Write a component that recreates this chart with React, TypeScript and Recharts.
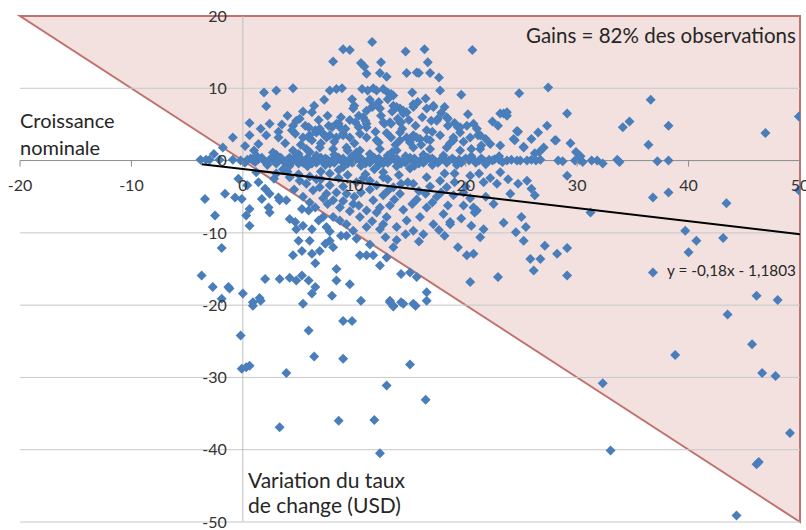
import { ScatterChart, Scatter, XAxis, YAxis, ReferenceArea, ReferenceLine, ReferenceDot } from 'recharts'

const xTicks = [-20, -10, 0, 10, 20, 30, 40, 50]
const yTicks = [20, 10, 0, -10, -20, -30, -40, -50]
const gridValues = [10, -10, -20, -30, -40, -50]

// observations sitting on (or very close to) zero growth
const zeroBand: [number, number][] = [
  [-3.8, 0.1], [-3.3, 0.1], [-3.0, 0.1], [-2.1, 0.1], [-0.9, 0.1], [-0.2, 0], [0.4, 0.1], [0.9, 0], [1.4, 0.2], [1.9, 0],
  [2.4, 0.1], [2.8, -0.1], [3.2, 0.2], [3.6, 0], [4.0, 0.1], [4.4, -0.2], [4.8, 0], [5.2, 0.3], [5.6, 0], [6.0, -0.1],
  [6.4, 0.2], [6.8, 0], [7.2, -0.2], [7.6, 0.1], [8.0, 0], [8.4, 0.3], [8.8, 0], [9.2, -0.2], [9.6, 0.1], [10.0, 0],
  [10.4, 0.2], [10.8, -0.1], [11.2, 0], [11.6, 0.3], [12.0, 0], [12.4, -0.2], [12.8, 0.1], [13.2, 0], [13.6, 0.2], [14.0, -0.1],
  [14.4, 0], [14.8, 0.2], [15.2, 0], [15.6, -0.1], [16.0, 0.1], [16.4, 0], [16.8, 0.2], [17.2, 0], [17.7, 0], [18.1, 0.1],
  [18.5, 0], [19.0, 0], [19.4, 0.1], [19.8, 0], [20.3, 0], [20.7, 0.1], [21.2, 0], [21.6, 0], [22.1, 0.1], [22.4, 0],
  [23.7, 0], [24.1, 0.1], [24.6, 0], [24.9, 0], [25.5, 0], [25.9, 0.1], [26.3, 0], [26.7, 0.1], [28.3, 0], [28.7, -0.1],
  [29.8, 0], [30.2, 0.1], [30.5, -0.2], [31.3, 0], [31.8, 0], [32.3, -0.4], [33.6, 0.1], [33.8, -0.2], [37.2, -0.1], [38.2, 0],
  [1.2, 0.7], [2.2, -0.6], [3.0, 0.8], [4.2, -0.7], [5.0, 0.9], [5.8, -0.8], [6.6, 0.7], [7.4, -0.6], [8.2, 0.8], [9.0, -0.9],
  [9.8, 0.6], [10.6, -0.7], [11.4, 0.9], [12.2, -0.6], [13.0, 0.7], [13.8, -0.8], [14.6, 0.6], [15.4, -0.7], [16.2, 0.8], [17.0, -0.6],
  [18.0, 0.7], [19.2, -0.6], [20.5, 0.6], [21.8, -0.5], [23.0, 0.6], [3.6, -1.2], [6.0, 1.2], [8.6, -1.3], [10.2, 1.1], [11.8, -1.2],
  [13.4, 1.2], [15.0, -1.1], [7.0, -1.5], [9.4, 1.4], [12.6, -1.6],
  [0.2, -0.3], [0.7, 0.3], [1.1, -0.2], [1.7, 0.4], [2.1, -0.3], [2.6, 0.4], [3.0, -0.4], [3.4, 0.4], [3.8, -0.3], [4.2, 0.4],
  [4.6, 0.3], [5.0, -0.4], [5.4, -0.3], [5.8, 0.4], [6.2, -0.4], [6.6, -0.3], [7.0, 0.4], [7.4, 0.3], [7.8, -0.4], [8.2, -0.3],
  [8.6, 0.4], [9.0, 0.3], [9.4, -0.4], [9.8, -0.3], [10.2, 0.4], [10.6, 0.3], [11.0, -0.4], [11.4, -0.3], [11.8, 0.4], [12.2, 0.3],
  [12.6, -0.4], [13.0, -0.3], [13.4, 0.4], [13.8, 0.3], [14.2, -0.4], [14.6, -0.3], [15.0, 0.4], [15.4, 0.3], [15.8, -0.4], [16.2, -0.3],
  [16.6, 0.4], [17.0, 0.3], [17.5, -0.3], [17.9, 0.3], [18.3, -0.3], [18.8, 0.3], [19.6, -0.3], [20.0, 0.3], [20.9, -0.3], [21.4, 0.3],
  [22.6, 0.2], [23.3, -0.2], [23.0, 0.1],
]

// nominal growth above zero
const upperPoints: [number, number][] = [
  [11.6, 16.4], [9.0, 15.4], [9.6, 15.3], [14.6, 15.1], [16.3, 15.4], [20.6, 15.3], [8.1, 13.7], [10.6, 13.5], [10.9, 13.0], [12.4, 13.6],
  [16.6, 13.6], [11.1, 12.0], [12.3, 12.1], [12.9, 11.6], [14.7, 12.1], [15.8, 12.1], [16.8, 12.1], [17.6, 11.5],
  [1.9, 9.4], [3.0, 9.7], [4.5, 10.0], [7.8, 9.7], [8.4, 9.9], [8.9, 10.0], [10.7, 9.9], [11.2, 9.7], [11.7, 10.0], [12.0, 9.7],
  [12.6, 9.9], [13.0, 9.4], [13.5, 9.0], [15.2, 9.4], [17.7, 9.7], [19.6, 9.1], [24.8, 9.3], [27.4, 10.1],
  [2.1, 7.5], [6.2, 6.7], [9.8, 8.5], [9.9, 7.2], [10.4, 6.2], [11.1, 6.9], [11.6, 7.4], [12.3, 7.2], [13.5, 7.6], [14.1, 7.2],
  [14.7, 6.7], [15.3, 7.4], [15.7, 8.1], [16.5, 7.2], [17.1, 7.4], [18.1, 7.4], [23.4, 6.5], [22.9, 4.8],
  [0.6, 5.2], [2.4, 5.1], [3.5, 5.0], [4.5, 4.8], [5.1, 5.8], [5.9, 4.6], [6.9, 4.4], [7.7, 4.8], [8.4, 5.1], [8.7, 4.6],
  [10.1, 5.3], [10.4, 4.6], [11.1, 5.1], [12.6, 5.3], [13.2, 5.3], [13.9, 5.8], [14.4, 6.5], [16.1, 6.0], [16.9, 5.5], [17.5, 5.8],
  [18.3, 6.0], [19.5, 4.6], [20.1, 4.8], [20.7, 5.1],
  [0.6, 3.5], [2.1, 3.5], [3.2, 3.2], [1.4, 2.3], [4.7, 3.7], [5.4, 3.2], [6.0, 3.5], [6.6, 3.9], [7.2, 3.7], [7.8, 3.5],
  [8.4, 3.2], [9.0, 3.5], [9.6, 3.2], [11.1, 3.2], [12.2, 2.5], [13.3, 3.2], [14.1, 2.8], [15.0, 2.5], [15.6, 3.2], [16.5, 3.0],
  [17.7, 3.5], [18.9, 3.2], [20.4, 3.2], [21.3, 3.5], [22.2, 2.3], [23.1, 2.1],
  [2.7, 1.1], [4.5, 1.4], [5.7, 1.6], [6.9, 1.8], [8.1, 1.6], [9.3, 1.8], [10.5, 1.4], [12.3, 1.6], [13.8, 1.4], [15.3, 1.8],
  [16.8, 1.6], [18.3, 1.8], [19.5, 1.4], [21.3, 1.6],
  [23.7, 6.2], [29.1, 6.5], [36.6, 8.4], [34.1, 4.6], [34.7, 5.4], [38.2, 4.8], [46.9, 3.8], [49.9, 6.1], [36.4, 2.2],
  [24.3, 3.0], [24.7, 4.0], [25.2, 1.8], [25.9, 3.0], [26.5, 3.9], [27.3, 4.8], [27.0, 1.8], [28.0, 2.8], [29.4, 2.4], [26.2, 1.0],
  [26.6, 1.2], [29.9, 1.2], [30.3, 0.6], [-0.9, 3.2],
  [11.0, 5.5], [11.7, 7.6], [12.2, 8.1], [13.0, 8.5], [13.3, 9.2], [13.8, 7.4], [14.4, 6.9], [15.6, 12.2],
  [4.8, 5.5], [5.9, 3.2], [6.5, 4.2], [7.1, 3.9], [7.5, 3.2], [8.0, 4.6], [8.6, 5.1], [9.0, 3.7], [10.5, 3.7], [11.1, 4.6],
  [12.0, 2.8], [12.7, 5.1], [13.3, 5.1], [14.1, 5.3], [14.7, 3.2], [15.3, 3.5],
  [15.3, 7.8], [17.1, 7.6], [14.2, 5.3], [17.4, 5.5], [18.4, 5.8], [19.3, 4.6], [19.5, 3.9], [21.1, 3.5], [16.5, 4.2], [18.4, 4.8],
  [23.1, 6.5], [23.7, 6.7], [24.6, 4.1], [24.4, 2.8], [25.2, 1.9], [28.1, 2.8], [14.1, 3.9], [15.0, 2.8], [15.9, 3.0], [16.8, 2.8],
  [18.9, 2.8], [20.5, 1.6], [21.4, 2.1],
  [3.8, 2.4], [4.4, 4.2], [5.2, 2.2], [5.6, 4.8], [6.2, 2.8], [6.8, 5.6], [7.0, 2.4], [7.6, 6.2], [8.2, 2.6], [8.8, 6.0],
  [9.2, 4.4], [9.6, 5.6], [10.0, 2.4], [10.8, 6.0], [10.0, 7.6], [11.4, 8.4], [11.9, 4.0], [12.4, 6.2], [12.9, 3.8], [13.4, 6.8],
  [13.7, 2.2], [14.3, 4.4], [14.9, 5.6], [15.5, 4.8], [16.0, 2.2], [16.4, 8.6], [17.0, 4.0], [17.8, 6.6], [18.6, 2.4], [19.0, 5.2],
  [19.8, 2.6], [20.2, 6.4], [21.0, 4.4], [21.8, 3.0], [22.4, 5.4], [7.3, 8.4], [6.4, 7.6], [5.4, 6.8], [4.0, 6.2], [3.2, 4.0],
  [1.6, 4.4], [1.0, 1.4], [0.2, 2.0], [-1.8, 1.8], [-2.6, 0.9],
]

// nominal growth below zero
const lowerPoints: [number, number][] = [
  [18.1, -1.8], [19.0, -1.8], [20.4, -2.1], [21.6, -3.0], [23.1, -1.6], [24.0, -4.6], [24.7, -3.2], [25.5, -2.8], [25.9, -3.9], [26.2, -4.8],
  [29.1, -2.1], [31.2, -7.2], [36.8, -5.1], [38.2, -4.4], [43.4, -5.9], [49.9, -4.1],
  [18.9, -4.8], [19.8, -6.2], [20.7, -6.5], [20.8, -7.2], [21.0, -6.9], [22.5, -6.0], [20.5, -9.0], [21.6, -9.5], [21.3, -10.6],
  [18.6, -8.8], [18.1, -10.4], [19.3, -12.0], [20.1, -13.1], [20.7, -12.9], [20.4, -16.8], [22.9, -16.1],
  [25.0, -7.8], [25.4, -9.2], [24.5, -9.9], [25.2, -11.1], [25.8, -13.6], [26.7, -13.6], [26.1, -15.2], [27.1, -11.8], [28.2, -12.9], [29.1, -12.1],
  [29.1, -15.9], [39.7, -9.7], [40.7, -11.1], [40.0, -12.7], [43.1, -10.7], [36.8, -15.5], [46.1, -18.7], [48.0, -19.3], [43.5, -21.3],
  [45.7, -25.4], [46.6, -29.4], [47.8, -29.8], [38.8, -26.9], [32.3, -30.8], [49.1, -37.7], [46.1, -42.0], [46.3, -41.7], [33.0, -40.1], [44.3, -49.1],
  [-3.4, -5.3], [-2.5, -7.6], [-1.9, -12.1], [-3.7, -15.9], [-2.7, -17.5], [-1.3, -17.5], [-1.2, -17.7], [-1.9, -19.1], [0.0, -18.4], [-0.1, -5.3],
  [-0.7, -5.1], [-1.6, -4.6], [-0.4, -2.5], [0.6, -6.7], [0.3, -7.6], [0.6, -9.0], [0.9, -19.6], [1.5, -19.0], [1.7, -5.3], [1.4, -3.0],
  [2.0, -3.9], [2.4, -4.6], [2.0, -16.4],
  [2.3, -6.5], [2.4, -7.2], [3.2, -5.1], [3.3, -5.5], [3.9, -5.5], [4.2, -8.1], [4.7, -8.5], [4.8, -9.5], [5.4, -9.0], [5.3, -6.7],
  [5.9, -6.9], [6.5, -6.5], [6.8, -8.3], [7.2, -7.8], [6.2, -9.5], [7.5, -9.2],
  [4.5, -13.1], [5.0, -11.1], [5.3, -12.5], [6.0, -11.1], [6.2, -12.9], [6.5, -14.2], [6.9, -12.5], [7.4, -11.5], [7.8, -11.1], [8.1, -12.0],
  [8.4, -15.0], [5.3, -15.9], [5.9, -16.6], [6.5, -17.5], [8.4, -16.6], [9.6, -17.1], [8.0, -18.7], [5.4, -19.8], [6.2, -18.4], [3.3, -16.4],
  [4.2, -16.2], [4.8, -16.6],
  [9.3, -10.4], [9.9, -9.7], [10.5, -13.1], [11.1, -13.1], [11.7, -13.1], [12.3, -14.5], [12.9, -13.4], [13.5, -12.0], [14.2, -15.7], [15.0, -15.5],
  [15.6, -16.1], [16.5, -18.2], [16.5, -19.4], [15.3, -19.8], [14.2, -19.6], [13.2, -19.4], [13.5, -20.1], [10.6, -19.4],
  [4.2, -2.3], [5.1, -2.8], [5.7, -3.2], [6.3, -4.1], [6.9, -3.7], [7.5, -4.6], [8.1, -5.5], [8.7, -6.5], [9.3, -4.6], [9.9, -6.0],
  [10.5, -7.8], [11.1, -6.9], [11.7, -5.5], [12.3, -6.5], [12.9, -7.8], [13.8, -9.2], [14.7, -8.3], [15.3, -9.7], [15.9, -7.8], [16.5, -6.5],
  [17.1, -8.8], [18.0, -7.4], [18.6, -8.5], [8.1, -7.8], [8.7, -8.3], [9.3, -8.8], [11.1, -9.2], [12.3, -9.5], [13.5, -3.7], [14.1, -4.6],
  [15.3, -3.2], [16.5, -2.3], [17.7, -2.8], [18.3, -3.7], [11.4, -2.8], [12.6, -2.3],
  [-0.2, -24.2], [-0.1, -28.8], [0.3, -28.6], [0.6, -28.4], [0.9, -20.1], [1.6, -19.4], [3.3, -36.9], [3.9, -29.4], [5.9, -23.5], [6.4, -27.1],
  [8.6, -36.0], [9.0, -22.2], [9.8, -22.2], [9.0, -27.4], [11.8, -35.9], [12.3, -40.5], [12.9, -31.1], [13.2, -19.6], [13.5, -20.2], [14.4, -19.8],
  [15.0, -28.2], [15.5, -20.1], [16.4, -33.1],
  [3.0, -1.8], [4.0, -1.5], [5.0, -1.9], [6.0, -2.2], [7.0, -2.6], [7.8, -1.8], [8.6, -2.4], [9.4, -2.0], [10.2, -3.0], [11.0, -1.9],
  [12.0, -3.4], [13.0, -2.6], [14.0, -2.0], [14.8, -3.0], [15.8, -4.2], [16.8, -3.6], [17.4, -5.0], [9.0, -3.6], [10.6, -4.4], [12.6, -4.8],
  [7.6, -6.0], [10.0, -5.0], [11.6, -8.4], [13.2, -6.2], [14.4, -6.8], [15.6, -5.4], [16.2, -10.2], [17.6, -9.6], [19.6, -8.0], [20.0, -3.6],
  [21.8, -5.0], [22.8, -3.2], [23.4, -8.6], [2.8, -2.5], [1.2, -1.6], [0.4, -3.4],
  [4.6, -4.0], [5.4, -5.0], [6.0, -5.8], [6.6, -2.6], [7.2, -5.2], [7.8, -3.4], [8.4, -4.4], [9.0, -5.6], [9.6, -7.0], [10.4, -6.2],
  [10.8, -2.4], [11.4, -4.0], [12.0, -7.2], [12.6, -8.8], [13.0, -4.2], [13.6, -5.4], [14.2, -3.2], [14.6, -10.2], [15.2, -6.0], [15.8, -11.2],
  [16.4, -4.6], [17.0, -5.8], [17.8, -4.4], [18.4, -6.2], [19.0, -3.0], [19.8, -4.4], [20.4, -5.2], [21.2, -1.8], [22.2, -2.4], [23.8, -2.6],
  [10.2, -10.8], [11.4, -11.6], [12.8, -10.6], [13.8, -11.0], [8.8, -10.4], [7.8, -9.8],
]

// linear trend y = -0,18x - 1,1803 over the observed range
const trendLine: [number, number][] = [[-3.7, -0.51], [50, -10.18]]

const observations = [...zeroBand, ...upperPoints, ...lowerPoints].map(([x, y]) => ({ x, y }))
const trendData = trendLine.map(([x, y]) => ({ x, y }))

const FONT = 'Lato, "Open Sans", sans-serif'

function GainsTriangle(props: any) {
  const { x, y, width, height } = props
  return (
    <polygon
      points={`${x},${y} ${x + width},${y} ${x + width},${y + height}`}
      fill="#f2e1df"
      stroke="#bf726e"
      strokeWidth={2}
    />
  )
}

function Diamond(props: any) {
  const { cx, cy } = props
  const r = 5
  return <path d={`M${cx},${cy - r}L${cx + r},${cy}L${cx},${cy + r}L${cx - r},${cy}Z`} fill="#4a7ebb" />
}

function XTickMark(props: any) {
  const { cx, cy } = props
  return <line x1={cx} x2={cx} y1={cy} y2={cy + 6} stroke="#8c8c8c" />
}

export default function App() {
  return (
    <div style={{ position: 'relative', width: 806, height: 530, fontFamily: FONT }}>
      <style>{'body{margin:0}'}</style>
      <ScatterChart width={806} height={530} margin={{ top: 16, right: 6, bottom: 8, left: 20 }}>
        <XAxis type="number" dataKey="x" domain={[-20, 50]} allowDataOverflow hide />
        <YAxis type="number" dataKey="y" domain={[-50, 20]} allowDataOverflow hide />
        <ReferenceArea x1={-20} x2={50} y1={-50} y2={20} shape={GainsTriangle} />
        {gridValues.map((v) => (
          <ReferenceLine key={'g' + v} y={v} stroke="#c8c8c8" strokeWidth={1} />
        ))}
        <ReferenceLine x={0} stroke="#bfbfbf" strokeWidth={1} />
        <ReferenceLine y={0} stroke="#8c8c8c" strokeWidth={1} />
        <Scatter data={observations} shape={Diamond} isAnimationActive={false} />
        <Scatter data={trendData} line={{ stroke: '#000', strokeWidth: 2 }} shape={() => null} isAnimationActive={false} />
        {xTicks.map((v) => (
          <ReferenceDot
            key={'x' + v}
            x={v}
            y={0}
            r={0}
            shape={XTickMark}
            label={{ value: String(v), position: 'bottom', offset: 19, fill: '#333', fontSize: 16, fontFamily: FONT }}
          />
        ))}
        {yTicks.map((v) => (
          <ReferenceDot
            key={'y' + v}
            x={0}
            y={v}
            r={0}
            shape={() => <g />}
            label={{ value: String(v), position: 'left', offset: 16, fill: '#333', fontSize: 16, fontFamily: FONT }}
          />
        ))}
      </ScatterChart>
      <svg width={806} height={530} style={{ position: 'absolute', left: 0, top: 0, pointerEvents: 'none' }}>
        <g fontFamily={FONT} fill="#262626">
          <text x={20} y={128} fontSize={20}>Croissance</text>
          <text x={20} y={155} fontSize={20}>nominale</text>
          <text x={526} y={43} fontSize={20.5}>Gains = 82% des observations</text>
          <text x={667} y={276} fontSize={15.3}>y = -0,18x - 1,1803</text>
          <text x={248} y={488} fontSize={21}>Variation du taux</text>
          <text x={248} y={513} fontSize={21}>de change (USD)</text>
        </g>
      </svg>
    </div>
  )
}
